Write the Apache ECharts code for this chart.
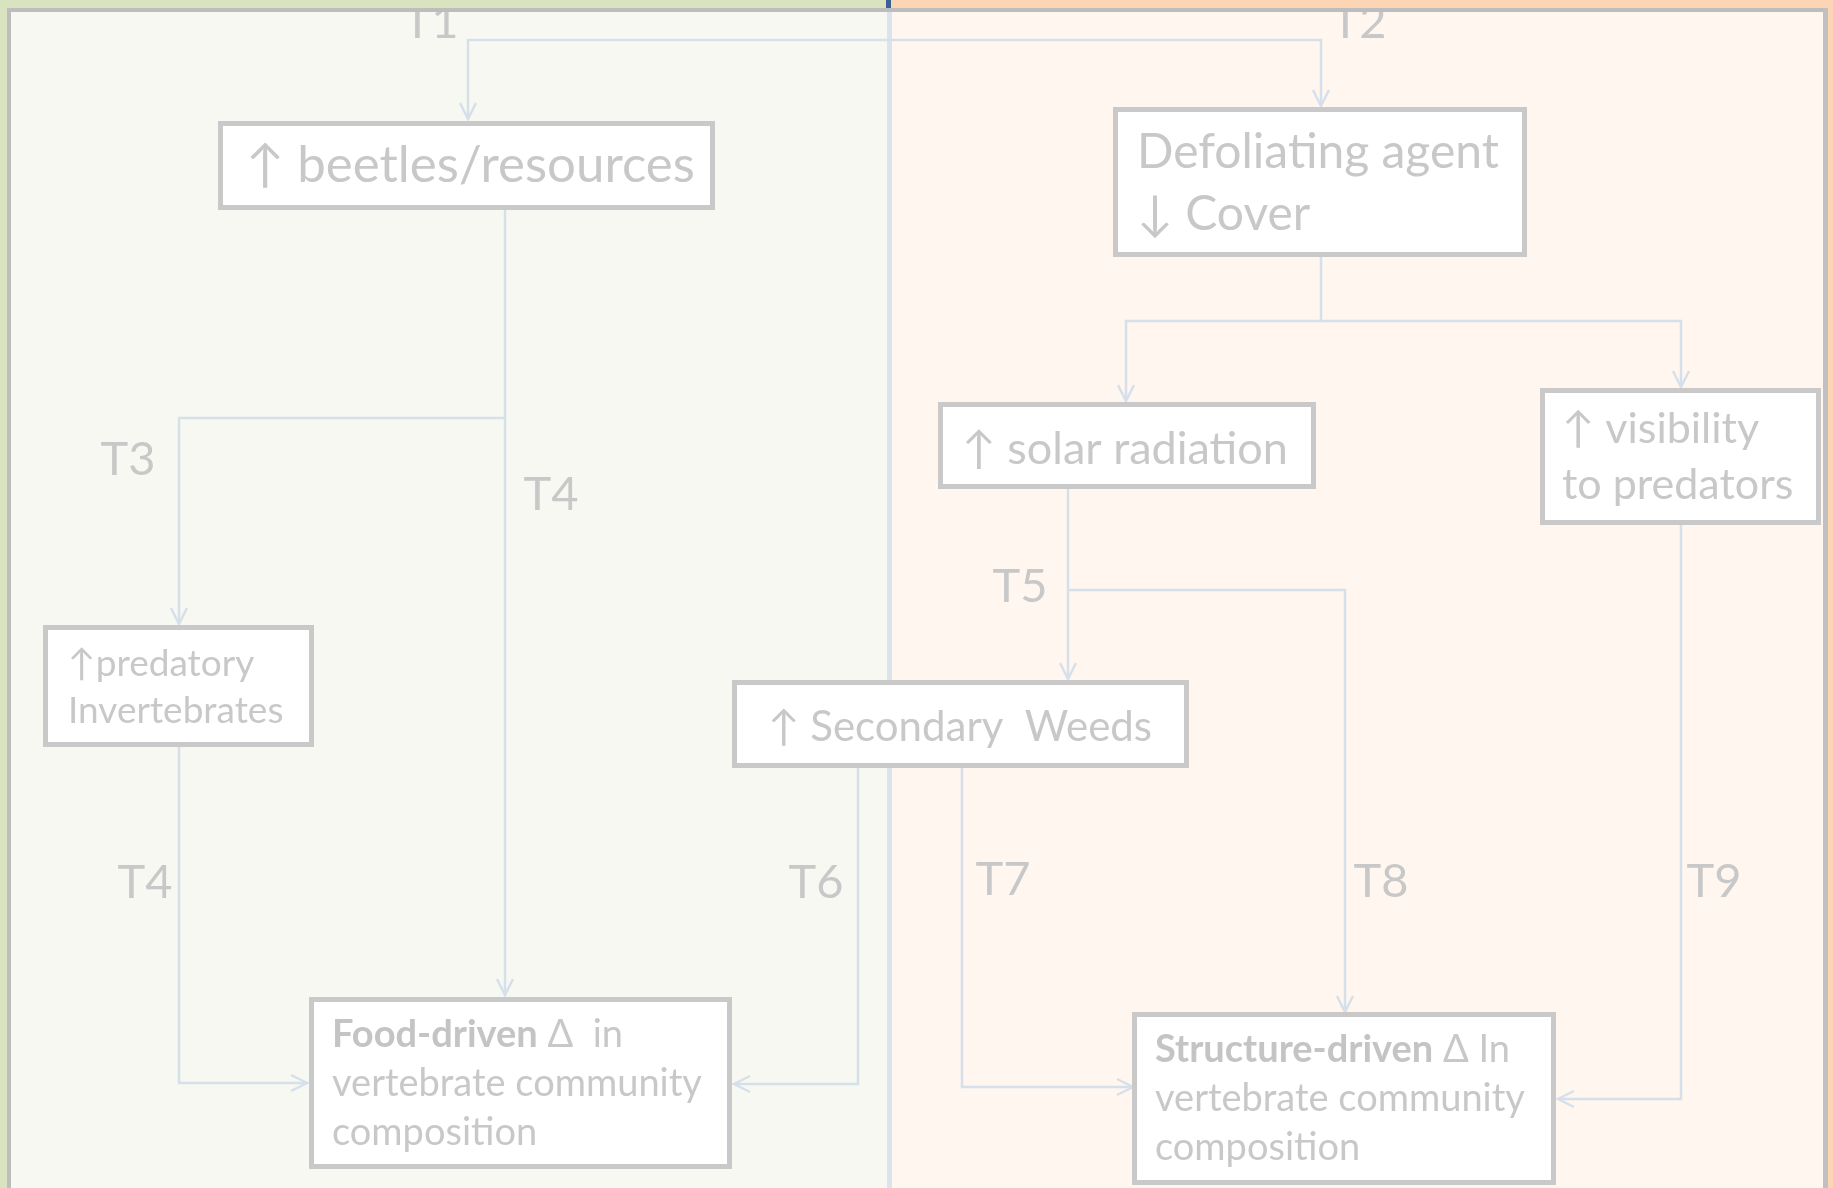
<!DOCTYPE html>
<html><head><meta charset="utf-8">
<script src="https://cdn.jsdelivr.net/npm/echarts@6/dist/echarts.min.js"></script>
<style>html,body{margin:0;padding:0;overflow:hidden;background:#fff}#c{width:1833px;height:1188px}</style>
</head><body><div id="c"></div>
<script>
// ---------- diagram data (diagram units == axis values) ----------
const nodeNames = ['beetles','defoliating','predatory','solar','visibility','weeds','food','structure'];
const nodeRects = [
  [218,121,715,210],
  [1113,107,1527,257],
  [43,625,314,747],
  [938,402,1316,489],
  [1540,388,1821,525],
  [732,680,1189,768],
  [309,997,732,1169],
  [1132,1012,1556,1185]
];
const nodeLines = [
  ['↑ beetles/resources'],
  ['Defoliating agent','↓ Cover'],
  ['↑predatory','Invertebrates'],
  ['↑ solar radiation'],
  ['↑ visibility','to predators'],
  ['↑ Secondary  Weeds'],
  ['{b|Food-driven}{n| Δ  in}','vertebrate community','composition'],
  ['{b|Structure-driven}{n| Δ In}','vertebrate community','composition']
];
const nodeTextX = [246,1137,68,962,1562,768,332,1155];
const nodeTextY = [[166],[153,215],[664,711],[449],[429,485],[727],[1035,1084,1133],[1050,1099,1148]];

const edges = [
  [[889,40],[468,40],[468,119]],
  [[889,40],[1321,40],[1321,106]],
  [[505,210],[505,995]],
  [[505,418],[179,418],[179,624]],
  [[179,747],[179,1083],[307,1083]],
  [[858,768],[858,1084],[734,1084]],
  [[962,768],[962,1087],[1133,1087]],
  [[1321,257],[1321,321],[1126,321],[1126,401]],
  [[1321,321],[1681,321],[1681,387]],
  [[1068,489],[1068,679]],
  [[1068,590],[1345,590],[1345,1012]],
  [[1681,525],[1681,1099],[1558,1099]]
];

const pathLabels = ['T1','T2','T3','T4','T4','T5','T6','T7','T8','T9'];
const pathLabelPos = [[431,23],[1359,23],[128,460],[551,495],[145,883],[1020,587],[816,883],[1003,880],[1381,882],[1714,882]];

const panelRects = [[0,0,889,1188],[889,0,1833,1188],[887,0,892,1188]];

// ---------- styles ----------
const FONT = 'Lato, "DejaVu Sans", sans-serif';
const TEXT_C = '#c8c8c8';
const BOX_C = '#c9c9c9';
const LINE_C = '#d6e0eb';
const nodeFont = {beetles:51, defoliating:48, predatory:37, solar:45, visibility:43, weeds:42, food:38, structure:38};
const panelFill = ['#f7f8f1','#fef6ef','#dbe3ee'];

function rectFrom(api, r){
  const p0 = api.coord([r[0], r[1]]), p1 = api.coord([r[2], r[3]]);
  return {x:Math.min(p0[0],p1[0]), y:Math.min(p0[1],p1[1]), width:Math.abs(p1[0]-p0[0]), height:Math.abs(p1[1]-p0[1])};
}

const chart = echarts.init(document.getElementById('c'), null, {renderer:'canvas'});
const option = {
  animation:false,
  backgroundColor:'#ffffff',
  grid:{left:0,right:0,top:0,bottom:0},
  xAxis:{type:'value',min:0,max:1833,show:false},
  yAxis:{type:'value',min:0,max:1188,inverse:true,show:false},
  series:[
    { // panels + divider
      type:'custom', clip:false, z:1,
      data: panelRects.map(r=>[r[0],r[1],r[2],r[3]]),
      encode:{x:[0,2], y:[1,3]},
      renderItem(params, api){
        const r = rectFrom(api, panelRects[params.dataIndex]);
        return {type:'rect', shape:r, style:{fill:panelFill[params.dataIndex]}};
      }
    },
    { // path labels
      type:'custom', clip:false, z:2,
      data: pathLabelPos.map(p=>[p[0],p[1]]),
      encode:{x:0,y:1},
      renderItem(params, api){
        const p = api.coord(pathLabelPos[params.dataIndex]);
        return {type:'text', x:p[0], y:p[1], style:{text:pathLabels[params.dataIndex], fontSize:47, fontFamily:FONT, fill:TEXT_C, align:'center', verticalAlign:'middle'}};
      }
    },
    { // edges
      type:'custom', clip:false, z:3,
      data: edges.map(e=>[e[0][0], e[0][1]]),
      encode:{x:0,y:1},
      renderItem(params, api){
        const pts = edges[params.dataIndex].map(p=>api.coord(p));
        const n = pts.length, a = pts[n-2], b = pts[n-1];
        const dx=b[0]-a[0], dy=b[1]-a[1], L=Math.hypot(dx,dy)||1, ux=dx/L, uy=dy/L;
        const AL=16, AW=8;
        const l=[b[0]-ux*AL-uy*AW, b[1]-uy*AL+ux*AW], r=[b[0]-ux*AL+uy*AW, b[1]-uy*AL-ux*AW];
        return {type:'group', children:[
          {type:'polyline', shape:{points:pts}, style:{stroke:LINE_C, lineWidth:2.5, fill:null}},
          {type:'polyline', shape:{points:[l,b,r]}, style:{stroke:LINE_C, lineWidth:2.5, fill:null}}
        ]};
      }
    },
    { // nodes
      type:'custom', clip:false, z:4,
      data: nodeRects.map(r=>[r[0],r[1],r[2],r[3]]),
      encode:{x:[0,2], y:[1,3]},
      renderItem(params, api){
        const i = params.dataIndex;
        const r = rectFrom(api, nodeRects[i]);
        const fs = nodeFont[nodeNames[i]];
        const children = [{type:'rect', shape:{x:r.x+2.5,y:r.y+2.5,width:r.width-5,height:r.height-5},
          style:{fill:'#ffffff', stroke:BOX_C, lineWidth:5}}];
        nodeLines[i].forEach((t,k)=>{
          const p = api.coord([nodeTextX[i], nodeTextY[i][k]]);
          children.push({type:'text', x:p[0], y:p[1], style:{
            text:t, fontSize:fs, fontFamily:FONT, fill:TEXT_C, align:'left', verticalAlign:'middle',
            rich:{
              b:{fontSize:fs, fontFamily:FONT, fontWeight:'bold', fill:'#c4c4c4'},
              n:{fontSize:fs, fontFamily:FONT, fill:TEXT_C}
            }}});
        });
        return {type:'group', children};
      }
    },
    { // frame decorations
      type:'custom', clip:false, z:5,
      data:[[0,0]],
      encode:{x:0,y:1},
      renderItem(params, api){
        const R = (x0,y0,x1,y1,fill)=>({type:'rect', shape:rectFrom(api,[x0,y0,x1,y1]), style:{fill}});
        return {type:'group', children:[
          R(0,0,889,8,'#d9e3bf'),
          R(889,0,1833,8,'#fcd5b5'),
          R(0,0,7,1188,'#d9e3bf'),
          R(1828,0,1833,1188,'#fcd5b5'),
          R(886,0,891,9,'#3a6192'),
          R(7,8,1828,12,'#bdbdbd'),
          R(7,8,11,1188,'#bdbdbd'),
          R(1823,8,1828,1188,'#c0c0c0')
        ]};
      }
    }
  ]
};
chart.setOption(option);
</script></body></html>
